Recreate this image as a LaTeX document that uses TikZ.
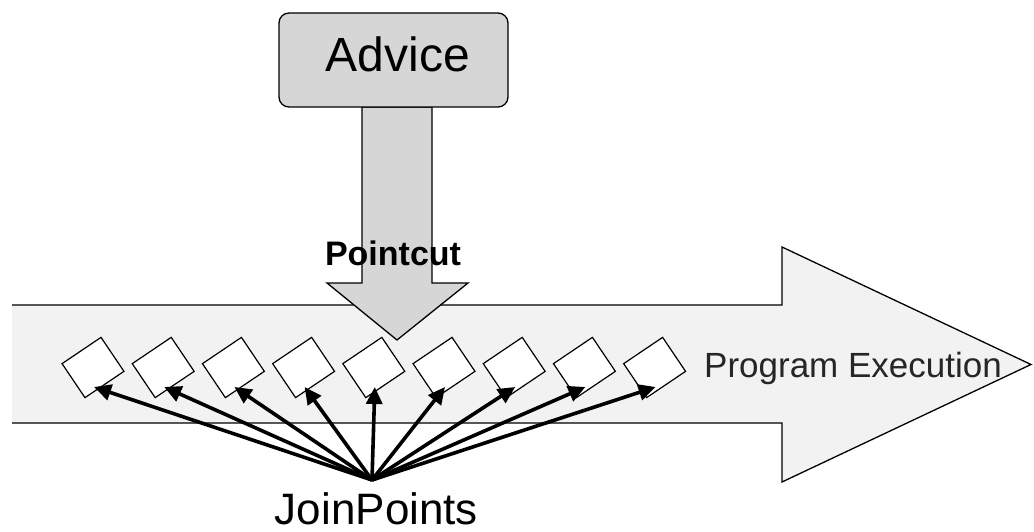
\documentclass[tikz,border=0pt]{standalone}
\usepackage{fontspec}
\setmainfont{Liberation Sans}
\usetikzlibrary{arrows.meta,calc}
\definecolor{bodyfill}{HTML}{F2F2F2}
\definecolor{advfill}{HTML}{D6D6D6}
\tikzset{
  outline/.style={draw=black,line width=1.3pt,line join=miter},
  jpbox/.style={draw=black,fill=white,line width=1.2pt,minimum width=47pt,minimum height=41pt,inner sep=0pt,rotate=34},
  jparrow/.style={line width=3.6pt,-{Triangle[length=17pt 0,width=16pt 0]}},
  advbox/.style={draw=black,fill=advfill,line width=1.3pt,rounded corners=10pt,minimum width=229pt,minimum height=94pt,inner sep=0pt},
}
\begin{document}
\begin{tikzpicture}[x=1pt,y=1pt]
\useasboundingbox (0,0) rectangle (1034,-532);
% program execution arrow
\fill[bodyfill] (12,-305) -- (782,-305) -- (782,-247) -- (1031,-364.5) -- (782,-482) -- (782,-423) -- (12,-423) -- cycle;
\draw[outline] (12,-305) -- (782,-305) -- (782,-247) -- (1031,-364.5) -- (782,-482) -- (782,-423) -- (12,-423);
\node[anchor=base west,inner sep=0pt,font=\fontsize{35}{40}\selectfont,text=black!85] (pe) at (704,-377) {Program Execution};
% pointcut arrow
\draw[outline,fill=advfill] (362,-107) -- (362,-283) -- (327,-283) -- (397,-340) -- (468,-283) -- (432,-283) -- (432,-107) -- cycle;
\node[anchor=base,inner sep=0pt,font=\fontsize{34}{40}\selectfont\bfseries] (pc) at (393,-265) {Pointcut};
% advice
\node[advbox] (adv) at (393.5,-60) {};
\node[anchor=base,inner sep=0pt,font=\fontsize{48}{56}\selectfont] (advt) at (398,-72) {Advice};
% join points
\coordinate (src) at (372,-480);
\foreach \i in {1,...,9} {
  \node[jpbox] (d\i) at ({93+70.2*(\i-1)},-367.5) {};
  \coordinate (t\i) at ($(d\i.center)+(1,-19.5)$);
  \draw[jparrow] (src) -- (t\i);
}
\node[anchor=base,inner sep=0pt,font=\fontsize{44}{50}\selectfont] (jp) at (376.5,-524) {JoinPoints};
\end{tikzpicture}
\end{document}
